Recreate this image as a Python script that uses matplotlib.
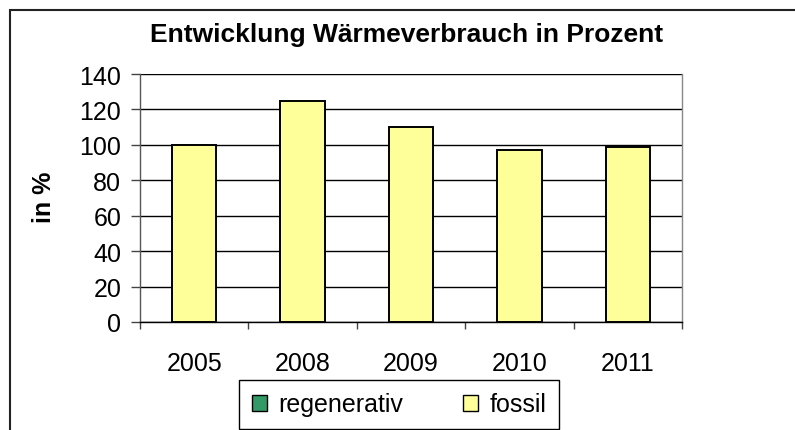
import numpy as np
import matplotlib.pyplot as plt
from matplotlib.patches import Patch, Rectangle
from matplotlib.ticker import FixedLocator

plt.rcParams['font.family'] = ['Liberation Sans', 'DejaVu Sans']

years = ['2005', '2008', '2009', '2010', '2011']
regenerativ = [0, 0, 0, 0, 0]
fossil = [100, 125, 110, 97, 99]

c_reg = '#339966'
c_fos = '#FFFF99'

fig = plt.figure(figsize=(7.95, 4.31), dpi=100)
W, H = 795.0, 431.0
ax = fig.add_axes([140 / W, (H - 323) / H, (682 - 140) / W, (323 - 75) / H])

x = np.arange(len(years))
ax.bar(x, regenerativ, width=0.41, color=c_reg, linewidth=0)
ax.bar(x, fossil, width=0.41, bottom=regenerativ, color=c_fos,
       edgecolor='black', linewidth=1.4, zorder=3)

ax.set_xlim(-0.5, len(years) - 0.5)
ax.set_ylim(0, 140)
ax.set_yticks(np.arange(0, 141, 20))
ax.yaxis.grid(True, color='black', linewidth=1)
ax.set_axisbelow(True)

ax.set_xticks(x)
ax.set_xticklabels(years)
ax.xaxis.set_minor_locator(FixedLocator(np.arange(-0.5, len(years), 1.0)))
ax.tick_params(axis='x', which='major', length=0, pad=21, labelsize=18)
ax.tick_params(axis='x', which='minor', length=5, width=1, color='#444444', direction='out')
ax.tick_params(axis='y', length=6.5, width=1, color='#444444', pad=7, labelsize=18)

ax.spines['top'].set_visible(False)
ax.spines['left'].set_color('#555555')
ax.spines['right'].set_color('#888888')
ax.spines['bottom'].set_color('black')
for s in ax.spines.values():
    s.set_linewidth(1)

fig.text(44 / W, 1 - 197 / H, 'in %', fontsize=18, fontweight='bold',
         rotation=90, ha='center', va='center')
fig.text(407 / W, 1 - 35 / H, 'Entwicklung Wärmeverbrauch in Prozent', fontsize=19,
         fontweight='bold', ha='center', va='center')

handles = [Patch(facecolor=c_reg, edgecolor='black', linewidth=1, label='regenerativ'),
           Patch(facecolor=c_fos, edgecolor='black', linewidth=1, label='fossil')]
leg = fig.legend(handles=handles, ncol=2, loc='center', bbox_to_anchor=(399 / W, (H - 405.5) / H),
                 fontsize=18, fancybox=False, edgecolor='black', framealpha=1,
                 handlelength=0.6, handleheight=0.6, handletextpad=0.45, columnspacing=2.4,
                 borderpad=0.5, borderaxespad=0)
leg.get_frame().set_linewidth(1)

# outer chart border (only left/top visible in crop)
fig.patches.append(Rectangle((10 / W, -0.1), 1.2, (H - 11) / H + 0.1, transform=fig.transFigure,
                             fill=False, edgecolor='#222222', linewidth=1.5))

fig.savefig('out.png', dpi=100)
